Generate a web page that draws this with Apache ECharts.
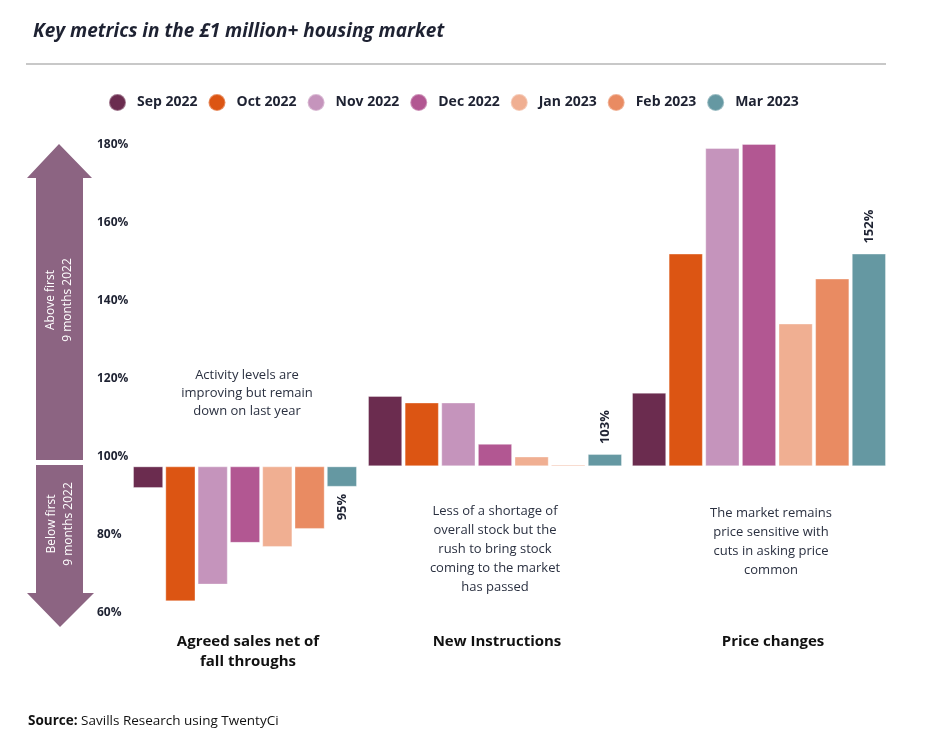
<!DOCTYPE html>
<html><head><meta charset="utf-8">
<script src="https://cdn.jsdelivr.net/npm/echarts@6/dist/echarts.min.js"></script>
<style>html,body{margin:0;padding:0;background:#fff}#c{width:940px;height:748px}</style>
</head><body><div id="c"></div>
<script>
const months = ['Sep 2022','Oct 2022','Nov 2022','Dec 2022','Jan 2023','Feb 2023','Mar 2023'];
const metrics = ['Agreed sales net of\nfall throughs','New Instructions','Price changes'];
const agreedSales = [94.7, 67, 71.1, 81.3, 80.3, 84.7, 95];
const newInstructions = [117.2, 115.6, 115.6, 105.5, 102.4, 100.4, 103];
const priceChanges = [118, 152, 177.8, 178.8, 134.9, 145.9, 152];
const yTicks = [60, 80, 100, 120, 140, 160, 180];
const monthColors = ['#6b2c4f','#dc5513','#c594bc','#b25792','#f0af92','#e98b62','#6598a2'];
const notes = [
  'Activity levels are\nimproving but remain\ndown on last year',
  'Less of a shortage of\noverall stock but the\nrush to bring stock\ncoming to the market\nhas passed',
  'The market remains\nprice sensitive with\ncuts in asking price\ncommon'
];
const groups = [agreedSales, newInstructions, priceChanges];

const FONT = '"Open Sans", Lato, sans-serif';
const DARK = '#1e2232';
const BASE = 100;

const grids = [{left: 133, top: 145, width: 1, height: 468}];
const gridPos = [[133, 224], [368, 254], [632, 254]];
const labelShift = [6, 4, 28];
gridPos.forEach(p => grids.push({left: p[0], width: p[1], top: 139, height: 491}));

const xAxes = [{gridIndex: 0, type: 'value', show: false}];
const yAxes = [{
  gridIndex: 0, type: 'value', min: yTicks[0], max: yTicks[yTicks.length - 1], interval: 20,
  axisLine: {show: false}, axisTick: {show: false}, splitLine: {show: false},
  axisLabel: {formatter: v => v + '%', align: 'left', margin: 36, color: DARK,
    fontFamily: FONT, fontWeight: 'bold', fontSize: 12}
}];
metrics.forEach((m, g) => {
  xAxes.push({gridIndex: g + 1, type: 'category', data: [m],
    axisLine: {show: false}, axisTick: {show: false},
    axisLabel: {color: '#111', fontFamily: FONT, fontWeight: 'bold', fontSize: 15,
      lineHeight: 20, margin: 2, padding: [0, 0, 0, labelShift[g]]}});
  yAxes.push({gridIndex: g + 1, type: 'value', min: 60 - BASE, max: 180 - BASE, show: false});
});

const series = [];
groups.forEach((vals, g) => {
  vals.forEach((v, k) => {
    const s = {
      type: 'bar', name: months[k], xAxisIndex: g + 1, yAxisIndex: g + 1,
      data: [v - BASE], barGap: '7%', barCategoryGap: '0%',
      itemStyle: {color: monthColors[k], borderColor: 'rgba(255,255,255,0.35)', borderWidth: 1},
      emphasis: {disabled: true}
    };
    if (k === vals.length - 1) {
      const neg = v < BASE;
      s.label = {show: true, position: neg ? 'bottom' : 'top', distance: neg ? 7 : 10,
        rotate: 90, align: neg ? 'right' : 'left', verticalAlign: 'middle',
        formatter: () => Math.round(v) + '%', color: DARK, fontFamily: FONT,
        fontWeight: 'bold', fontSize: 13};
    }
    series.push(s);
  });
});

const ARROW = '#8c6482';
const noteCenters = [[247, 366, 18], [495, 502, 19], [771, 504, 19]];
const graphic = [
  {type: 'text', x: 33, y: 22, style: {text: 'Key metrics in the £1 million+ housing market',
    font: 'italic bold 19px ' + FONT, fill: DARK}},
  {type: 'line', shape: {x1: 26, y1: 64, x2: 886, y2: 64}, style: {stroke: '#c8c8c8', lineWidth: 2}},
  {type: 'polygon', shape: {points: [[59, 144], [92, 178], [83, 178], [83, 460], [36, 460], [36, 178], [27, 178]]},
    style: {fill: ARROW}},
  {type: 'polygon', shape: {points: [[36, 465], [83, 465], [83, 593], [94, 593], [60, 627], [27, 593], [36, 593]]},
    style: {fill: ARROW}},
  {type: 'text', x: 59, y: 300, rotation: Math.PI / 2, style: {text: 'Above first\n9 months 2022',
    fill: '#fff', font: '12px ' + FONT, align: 'center', verticalAlign: 'middle', lineHeight: 17}},
  {type: 'text', x: 60, y: 524, rotation: Math.PI / 2, style: {text: 'Below first\n9 months 2022',
    fill: '#fff', font: '12px ' + FONT, align: 'center', verticalAlign: 'middle', lineHeight: 17}},
  {type: 'text', x: 28, y: 714, style: {
    text: '{b|Source:} Savills Research using TwentyCi',
    rich: {b: {fontWeight: 'bold', fontSize: 13.5, fontFamily: FONT, fill: '#111'}},
    fontSize: 13.5, fontFamily: FONT, fill: '#111'}}
];
notes.forEach((t, i) => {
  const c = noteCenters[i];
  graphic.push({type: 'text', x: c[0], y: c[1], style: {text: t, fill: '#2a3040',
    font: '13px ' + FONT, align: 'center', verticalAlign: 'top', lineHeight: c[2]}});
});

const chart = echarts.init(document.getElementById('c'), null, {renderer: 'canvas'});
chart.setOption({
  animation: false,
  backgroundColor: '#fff',
  color: monthColors,
  legend: {data: months, icon: 'circle', left: 103, top: 88, itemWidth: 29, itemHeight: 17,
    itemGap: 10, textStyle: {color: DARK, fontFamily: FONT, fontWeight: 'bold', fontSize: 14}},
  grid: grids, xAxis: xAxes, yAxis: yAxes, series: series, graphic: graphic
});
</script></body></html>
